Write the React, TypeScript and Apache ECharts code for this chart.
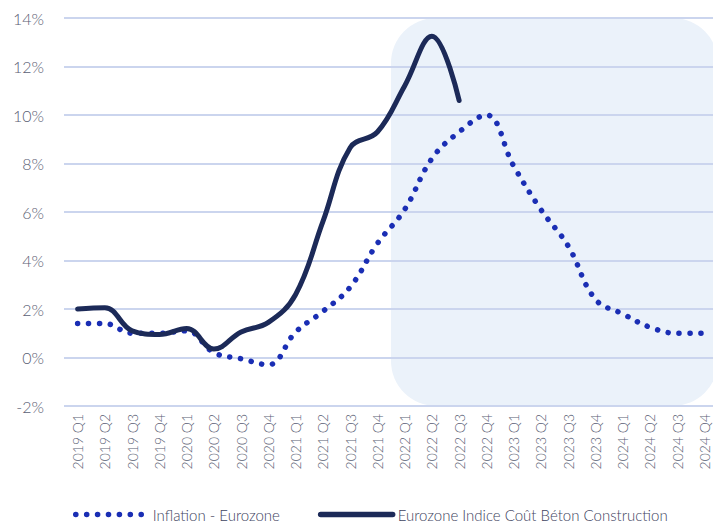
import React, { useEffect, useRef } from "react";
import * as echarts from "echarts";

const categories = [
  "2019 Q1", "2019 Q2", "2019 Q3", "2019 Q4",
  "2020 Q1", "2020 Q2", "2020 Q3", "2020 Q4",
  "2021 Q1", "2021 Q2", "2021 Q3", "2021 Q4",
  "2022 Q1", "2022 Q2", "2022 Q3", "2022 Q4",
  "2023 Q1", "2023 Q2", "2023 Q3", "2023 Q4",
  "2024 Q1", "2024 Q2", "2024 Q3", "2024 Q4",
];

const inflation = [
  1.4, 1.4, 1.0, 1.0, 1.1, 0.2, -0.05, -0.3, 1.05, 1.9, 2.9, 4.7,
  6.1, 8.2, 9.3, 10.0, 7.9, 6.1, 4.6, 2.4, 1.8, 1.25, 1.0, 1.0,
];

const concrete: (number | null)[] = [
  2.0, 2.05, 1.1, 0.95, 1.2, 0.35, 1.05, 1.45, 2.6, 5.6, 8.65, 9.3,
  11.2, 13.25, 10.6, null, null, null, null, null, null, null, null, null,
];

const seriesNames = ["Inflation - Eurozone", "Eurozone Indice Coût Béton Construction"];
const highlightStart = "2022 Q1";

const FONT = "Lato";

export default function App() {
  const ref = useRef<HTMLDivElement>(null);
  useEffect(() => {
    if (!ref.current) return;
    const chart = echarts.init(ref.current, undefined, { renderer: "svg" });
    chart.setOption({
      animation: false,
      grid: { left: 64, right: 3, top: 18, bottom: 124 },
      legend: {
        left: 68,
        top: 502,
        itemWidth: 72,
        itemHeight: 14,
        itemGap: 38,
        itemStyle: { opacity: 0 },
        lineStyle: { width: 5.5 },
        textStyle: { fontFamily: FONT, fontSize: 15, fontWeight: 300, color: "#3E4460" },
        data: seriesNames,
      },
      xAxis: {
        type: "category",
        data: categories,
        boundaryGap: true,
        axisLine: { show: false },
        axisTick: { show: false },
        axisLabel: {
          rotate: 90,
          interval: 0,
          margin: 8,
          fontFamily: FONT,
          fontWeight: 300,
          fontSize: 14,
          color: "#5A6074",
        },
      },
      yAxis: {
        type: "value",
        min: -2,
        max: 14,
        interval: 2,
        axisLine: { show: false },
        axisTick: { show: false },
        axisLabel: {
          formatter: "{value}%",
          margin: 20,
          fontFamily: FONT,
          fontWeight: 300,
          fontSize: 16,
          color: "#5A6074",
        },
        splitLine: { lineStyle: { color: "#CBD5EE", width: 2 } },
      },
      series: [
        {
          name: seriesNames[0],
          type: "line",
          data: inflation,
          smooth: 0.4,
          showSymbol: false,
          symbol: "none",
          color: "#1A2EB4",
          lineStyle: { color: "#1A2EB4", width: 5.5, type: [0.1, 10.8], cap: "round" },
        },
        {
          name: seriesNames[1],
          type: "line",
          data: concrete,
          smooth: 0.4,
          showSymbol: false,
          symbol: "none",
          color: "#1C2A58",
          lineStyle: { color: "#1C2A58", width: 5, cap: "round", join: "round" },
        },
      ],
    });
    const idx = categories.indexOf(highlightStart);
    const c0 = chart.convertToPixel({ xAxisIndex: 0 }, 0) as number;
    const c1 = chart.convertToPixel({ xAxisIndex: 0 }, 1) as number;
    const half = (c1 - c0) / 2;
    const xs = (chart.convertToPixel({ xAxisIndex: 0 }, idx) as number) - half;
    const xe = (chart.convertToPixel({ xAxisIndex: 0 }, categories.length - 1) as number) + half;
    const yt = chart.convertToPixel({ yAxisIndex: 0 }, 14) as number;
    const yb = chart.convertToPixel({ yAxisIndex: 0 }, -2) as number;
    chart.setOption({
      graphic: {
        elements: [
          {
            type: "rect",
            z: -1,
            silent: true,
            shape: { x: xs, y: yt, width: xe - xs, height: yb - yt, r: 45 },
            style: { fill: "#EBF2FA" },
          },
        ],
      },
    });
    return () => chart.dispose();
  }, []);
  return <div ref={ref} style={{ width: 721, height: 530, margin: -8 }} />;
}
